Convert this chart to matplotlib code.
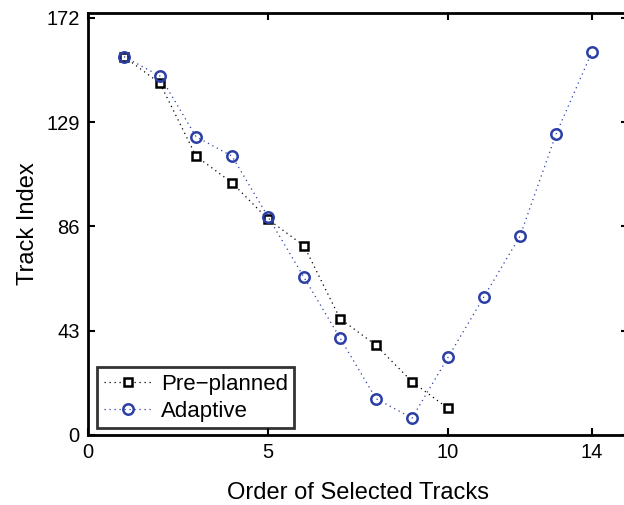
import matplotlib
matplotlib.use("Agg")
import matplotlib.pyplot as plt

# Values
order_pre = [1, 2, 3, 4, 5, 6, 7, 8, 9, 10]
track_pre = [156, 145, 115, 104, 89, 78, 48, 37, 22, 11]

order_adapt = [1, 2, 3, 4, 5, 6, 7, 8, 9, 10, 11, 12, 13, 14]
track_adapt = [156, 148, 123, 115, 90, 65, 40, 15, 7, 32, 57, 82, 124, 158]

x_ticks = [0, 5, 10, 14]
y_ticks = [0, 43, 86, 129, 172]

plt.rcParams["font.family"] = ["Liberation Sans", "DejaVu Sans"]

fig = plt.figure(figsize=(6.24, 5.05), dpi=100)
ax = fig.add_axes([88 / 624, 70 / 505, 540 / 624, 422 / 505])

blue = "#2b3fa6"
dots = (0, (1, 3))
ax.plot(order_pre, track_pre, linestyle=dots, color="black", linewidth=0.9,
        marker="s", markersize=5.5, markerfacecolor="white",
        markeredgecolor="black", markeredgewidth=1.8, label="Pre\u2212planned")
ax.plot(order_adapt, track_adapt, linestyle=dots, color=blue, linewidth=0.9,
        marker="o", markersize=7.5, markerfacecolor="none",
        markeredgecolor=blue, markeredgewidth=1.8, label="Adaptive")

ax.set_xlim(0, 15)
ax.set_ylim(0, 174)
ax.set_xticks(x_ticks)
ax.set_yticks(y_ticks)
ax.tick_params(direction="in", top=True, right=True, length=5, width=1.5,
               labelsize=14.5, pad=6)
for s in ax.spines.values():
    s.set_linewidth(2)

ax.set_xlabel("Order of Selected Tracks", fontsize=17, labelpad=14)
ax.set_ylabel("Track Index", fontsize=17, labelpad=5)

leg = ax.legend(loc="lower left", fontsize=16, frameon=True, fancybox=False,
                borderaxespad=0.3, handlelength=2.2, handletextpad=0.35,
                borderpad=0.3, labelspacing=0.25, bbox_to_anchor=(0.005, 0.0))
leg.get_frame().set_edgecolor("black")
leg.get_frame().set_linewidth(2)

fig.savefig("out.png", dpi=100)
